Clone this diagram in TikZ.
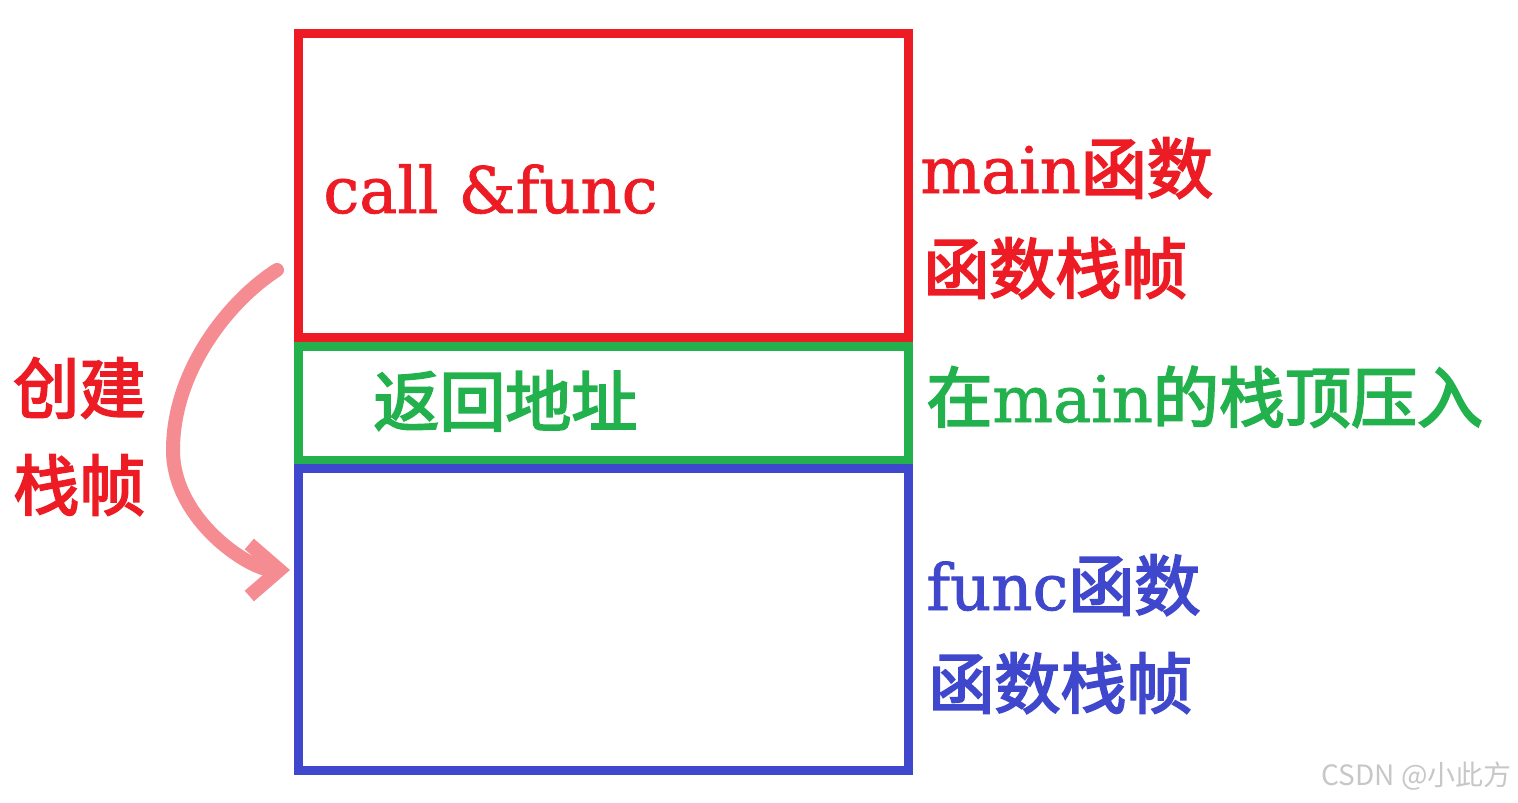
\documentclass[tikz,border=0pt]{standalone}
\usepackage{fontspec}
\setmainfont{DejaVu Serif}[FakeBold=1.2]
\newfontfamily\cjk{Noto Sans CJK SC}[FakeBold=3]
\newfontfamily\markfont{Noto Sans CJK SC}
\usetikzlibrary{arrows.meta, positioning}
\definecolor{framered}{RGB}{237, 28, 36}
\definecolor{framegreen}{RGB}{34, 177, 76}
\definecolor{frameblue}{RGB}{63, 72, 204}
\definecolor{arrowpink}{RGB}{245, 140, 145}
\newcommand{\zh}[1]{{\cjk\fontsize{33}{38}\selectfont #1}}

\begin{document}
\begin{tikzpicture}[x=0.5pt, y=-0.5pt,
  stackframe/.style={draw, line width=4.5pt, inner sep=0pt, minimum width=305pt},
  tag/.style={anchor=base west, inner sep=0pt, font=\fontsize{32}{38}\selectfont}
]
  \useasboundingbox (0,0) rectangle (1518,802);

  % stack frames
  \node[stackframe, draw=framered, minimum height=151.75pt] (mainframe) at (603.5,185.75) {};
  \node[stackframe, draw=framegreen, minimum height=56.75pt] (retaddr) at (603.5,403.25) {};
  \node[stackframe, draw=frameblue, minimum height=150.75pt] (funcframe) at (603.5,619.25) {};

  % texts
  \node[tag, text=framered] (calltext) at (323,213) {call \&func};
  \node[tag, text=framered] (mainname) at (920,193) {main\zh{函数}};
  \node[tag, text=framered] (mainstack) at (923,293) {\zh{函数栈帧}};
  \node[tag, text=framegreen] (rettext) at (373,426) {\zh{返回地址}};
  \node[tag, text=framegreen] (pushnote) at (926,422) {\zh{在}main\zh{的栈顶压入}};
  \node[tag, text=frameblue] (funcname) at (926,610) {func\zh{函数}};
  \node[tag, text=frameblue] (funcstack) at (928,708) {\zh{函数栈帧}};
  \node[tag, text=framered] (createtext) at (13,413) {\zh{创建}};
  \node[tag, text=framered] (stacktext) at (13,510) {\zh{栈帧}};
  \node[anchor=base east, inner sep=0pt, text=black!22, font=\markfont\fontsize{14}{16}\selectfont] (watermark) at (1512,785) {CSDN @小此方};

  % create arrow
  \coordinate (bendstart) at (277,270);
  \coordinate (bendleft) at (173,450);
  \coordinate (bendtip) at (290,570);
  \draw[arrowpink, line width=7pt, line cap=round, line join=round, -{Straight Barb[length=15pt, width=26pt]}]
    (bendstart) .. controls (230,300) and (173,370) .. (bendleft)
    .. controls (173,520) and (250,570) .. (bendtip);
\end{tikzpicture}
\end{document}
